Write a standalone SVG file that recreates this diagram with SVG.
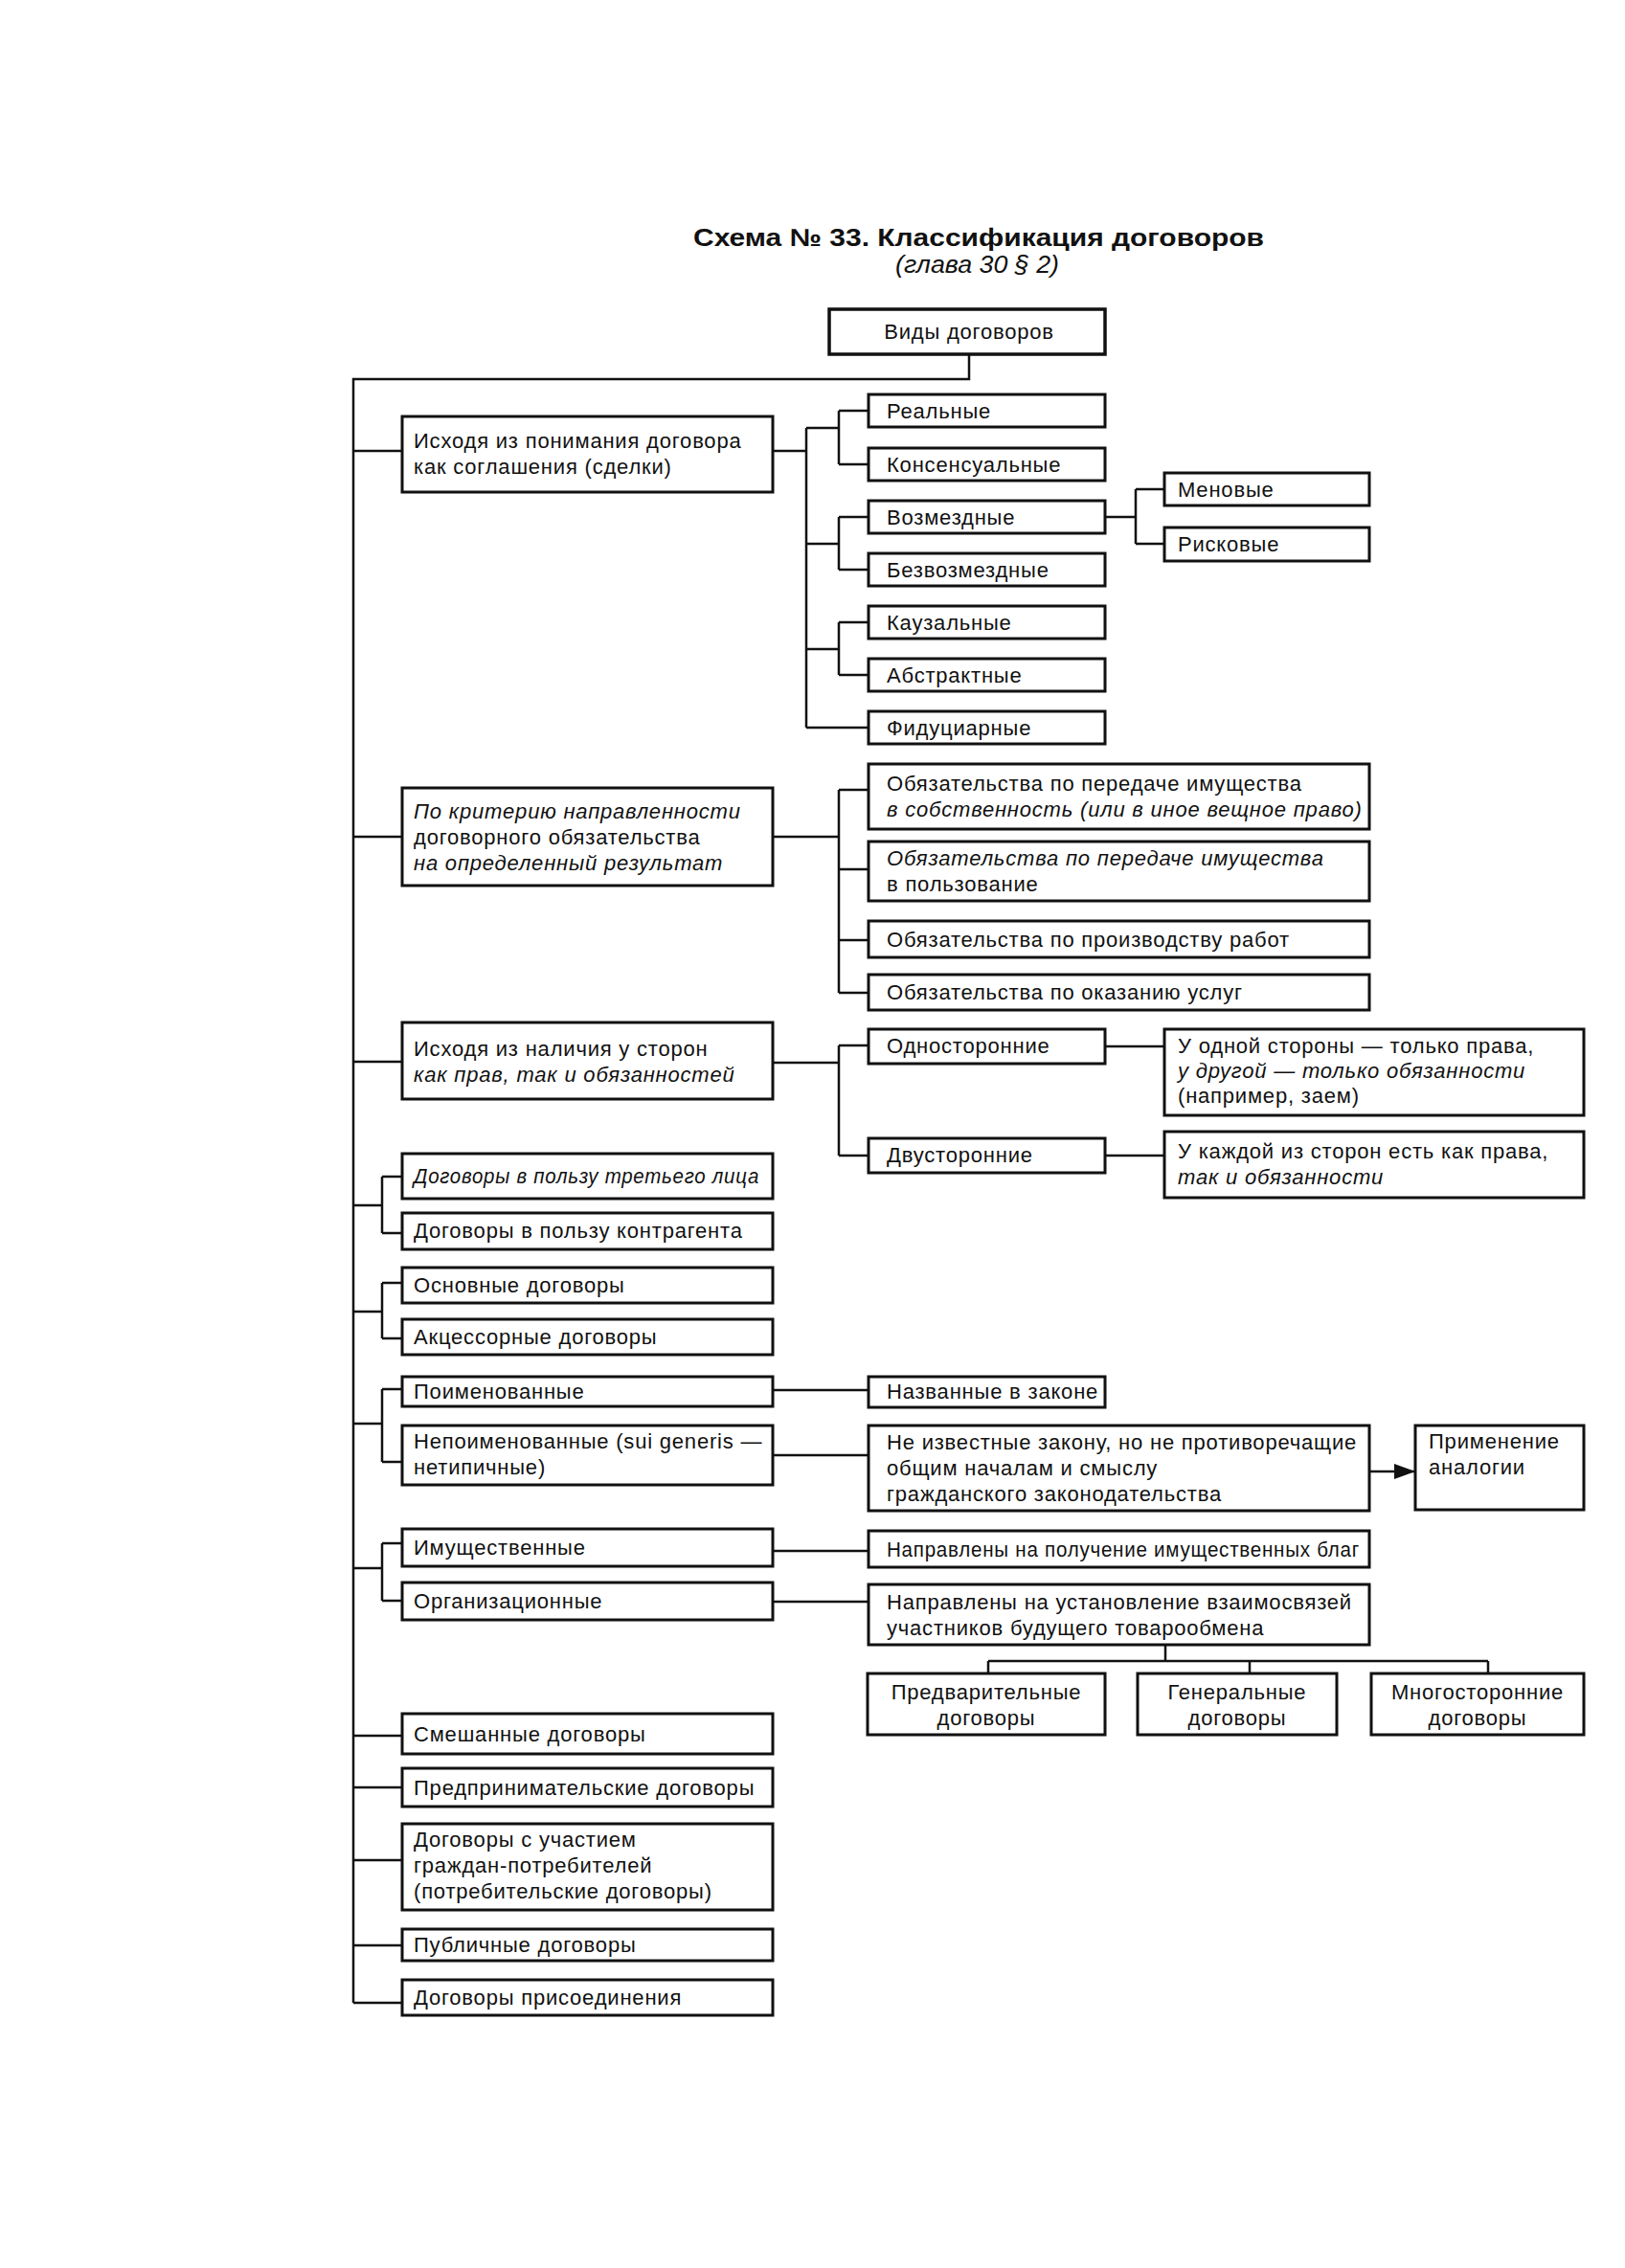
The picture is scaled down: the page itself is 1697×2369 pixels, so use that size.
<svg xmlns="http://www.w3.org/2000/svg" width="1697" height="2369" viewBox="0 0 1697 2369">
<defs>
<style>
.box{fill:#fff;stroke:#111;stroke-width:3}
.thick{stroke-width:3.5}
.ln{fill:none;stroke:#111;stroke-width:2.5}
.t{font-family:"Liberation Sans",Arial,sans-serif;font-size:22px;letter-spacing:0.8px;fill:#111}
.i{font-style:italic}
.c{text-anchor:middle}
.title{font-family:"Liberation Sans",Arial,sans-serif;font-size:26px;font-weight:bold;fill:#111}
.sub{font-family:"Liberation Sans",Arial,sans-serif;font-size:25px;font-style:italic;fill:#111}
</style>
<marker id="ah" viewBox="0 0 22 16" refX="22" refY="8" markerWidth="22" markerHeight="16" markerUnits="userSpaceOnUse" orient="auto"><path d="M0,0 L22,8 L0,16 z" fill="#111"/></marker>
</defs>
<rect width="1697" height="2369" fill="#fff"/>
<g id="title">
<text class="title" x="724" y="257" textLength="596" lengthAdjust="spacingAndGlyphs">Схема № 33. Классификация договоров</text>
<text class="sub" x="935" y="285" textLength="171" lengthAdjust="spacingAndGlyphs">(глава 30 § 2)</text>
</g>
<g id="connectors">
<path class="ln" d="M1012,370 V396 H369 V2092"/>
<path class="ln" d="M369,471 H420 M369,874 H420 M369,1109 H420 M369,1259 H399 M369,1370 H399 M369,1487 H399 M369,1638 H399 M369,1813 H420 M369,1867 H420 M369,1943 H420 M369,2032 H420 M369,2092 H420"/>
<path class="ln" d="M399,1229 V1288 M399,1229 H420 M399,1288 H420"/>
<path class="ln" d="M399,1340 V1398 M399,1340 H420 M399,1398 H420"/>
<path class="ln" d="M399,1451 V1527 M399,1451 H420 M399,1527 H420"/>
<path class="ln" d="M399,1612 V1672 M399,1612 H420 M399,1672 H420"/>
<path class="ln" d="M807,471 H842 M842,447 V760 M842,447 H876 M876,429 V485 M876,429 H907 M876,485 H907 M842,568 H876 M876,540 V595 M876,540 H907 M876,595 H907 M842,678 H876 M876,650 V705 M876,650 H907 M876,705 H907 M842,760 H907"/>
<path class="ln" d="M1154,540 H1186 M1186,511 V568 M1186,511 H1216 M1186,568 H1216"/>
<path class="ln" d="M807,874 H876 M876,825 V1037 M876,825 H907 M876,908 H907 M876,982 H907 M876,1037 H907"/>
<path class="ln" d="M807,1110 H876 M876,1092 V1207 M876,1092 H907 M876,1207 H907 M1154,1093 H1216 M1154,1207 H1216"/>
<path class="ln" d="M807,1452 H907 M807,1520 H907 M807,1620 H907 M807,1673 H907"/>
<path class="ln" d="M1430,1537 H1478" marker-end="url(#ah)"/>
<path class="ln" d="M1217,1718 V1735 M1032,1735 H1554 M1032,1735 V1748 M1305,1735 V1748 M1554,1735 V1748"/>
</g>
<g id="n-types"><rect class="box thick" x="866" y="323" width="288" height="47"/><text class="t c" x="1012" y="354">Виды договоров</text></g>
<g id="n-g1"><rect class="box" x="420" y="435" width="387" height="79"/><text class="t" x="432" y="468">Исходя из понимания договора</text><text class="t" x="432" y="495">как соглашения (сделки)</text></g>
<g id="n-real"><rect class="box" x="907" y="412" width="247" height="34"/><text class="t" x="926" y="437">Реальные</text></g>
<g id="n-cons"><rect class="box" x="907" y="468" width="247" height="34"/><text class="t" x="926" y="493">Консенсуальные</text></g>
<g id="n-paid"><rect class="box" x="907" y="523" width="247" height="34"/><text class="t" x="926" y="548">Возмездные</text></g>
<g id="n-free"><rect class="box" x="907" y="578" width="247" height="34"/><text class="t" x="926" y="603">Безвозмездные</text></g>
<g id="n-causal"><rect class="box" x="907" y="633" width="247" height="34"/><text class="t" x="926" y="658">Каузальные</text></g>
<g id="n-abstract"><rect class="box" x="907" y="688" width="247" height="34"/><text class="t" x="926" y="713">Абстрактные</text></g>
<g id="n-fid"><rect class="box" x="907" y="743" width="247" height="34"/><text class="t" x="926" y="768">Фидуциарные</text></g>
<g id="n-exch"><rect class="box" x="1216" y="494" width="214" height="34"/><text class="t" x="1230" y="519">Меновые</text></g>
<g id="n-risk"><rect class="box" x="1216" y="551" width="214" height="35"/><text class="t" x="1230" y="576">Рисковые</text></g>
<g id="n-g2"><rect class="box" x="420" y="823" width="387" height="102"/><text class="t i" x="432" y="855">По критерию направленности</text><text class="t" x="432" y="882">договорного обязательства</text><text class="t i" x="432" y="909">на определенный результат</text></g>
<g id="n-own"><rect class="box" x="907" y="798" width="523" height="68"/><text class="t" x="926" y="826">Обязательства по передаче имущества</text><text class="t i" x="926" y="853">в собственность (или в иное вещное право)</text></g>
<g id="n-use"><rect class="box" x="907" y="879" width="523" height="62"/><text class="t i" x="926" y="904">Обязательства по передаче имущества</text><text class="t" x="926" y="931">в пользование</text></g>
<g id="n-work"><rect class="box" x="907" y="962" width="523" height="38"/><text class="t" x="926" y="989">Обязательства по производству работ</text></g>
<g id="n-serv"><rect class="box" x="907" y="1018" width="523" height="37"/><text class="t" x="926" y="1044">Обязательства по оказанию услуг</text></g>
<g id="n-g3"><rect class="box" x="420" y="1068" width="387" height="80"/><text class="t" x="432" y="1103">Исходя из наличия у сторон</text><text class="t i" x="432" y="1130">как прав, так и обязанностей</text></g>
<g id="n-uni"><rect class="box" x="907" y="1075" width="247" height="36"/><text class="t" x="926" y="1100">Односторонние</text></g>
<g id="n-uni-d"><rect class="box" x="1216" y="1075" width="438" height="90"/><text class="t" x="1230" y="1100">У одной стороны — только права,</text><text class="t i" x="1230" y="1126">у другой — только обязанности</text><text class="t" x="1230" y="1152">(например, заем)</text></g>
<g id="n-bi"><rect class="box" x="907" y="1189" width="247" height="36"/><text class="t" x="926" y="1214">Двусторонние</text></g>
<g id="n-bi-d"><rect class="box" x="1216" y="1182" width="438" height="69"/><text class="t" x="1230" y="1210">У каждой из сторон есть как права,</text><text class="t i" x="1230" y="1237">так и обязанности</text></g>
<g id="n-third"><rect class="box" x="420" y="1205" width="387" height="47"/><text class="t i" x="432" y="1236" textLength="361" lengthAdjust="spacingAndGlyphs">Договоры в пользу третьего лица</text></g>
<g id="n-counter"><rect class="box" x="420" y="1267" width="387" height="38"/><text class="t" x="432" y="1293">Договоры в пользу контрагента</text></g>
<g id="n-main"><rect class="box" x="420" y="1324" width="387" height="37"/><text class="t" x="432" y="1350">Основные договоры</text></g>
<g id="n-access"><rect class="box" x="420" y="1378" width="387" height="37"/><text class="t" x="432" y="1404">Акцессорные договоры</text></g>
<g id="n-named"><rect class="box" x="420" y="1438" width="387" height="31"/><text class="t" x="432" y="1461">Поименованные</text></g>
<g id="n-unnamed"><rect class="box" x="420" y="1489" width="387" height="62"/><text class="t" x="432" y="1513">Непоименованные (sui generis —</text><text class="t" x="432" y="1540">нетипичные)</text></g>
<g id="n-named-d"><rect class="box" x="907" y="1438" width="247" height="32"/><text class="t" x="926" y="1461">Названные в законе</text></g>
<g id="n-unknown"><rect class="box" x="907" y="1489" width="523" height="89"/><text class="t" x="926" y="1514">Не известные закону, но не противоречащие</text><text class="t" x="926" y="1541">общим началам и смыслу</text><text class="t" x="926" y="1568">гражданского законодательства</text></g>
<g id="n-analogy"><rect class="box" x="1478" y="1489" width="176" height="88"/><text class="t" x="1492" y="1513">Применение</text><text class="t" x="1492" y="1540">аналогии</text></g>
<g id="n-prop"><rect class="box" x="420" y="1597" width="387" height="39"/><text class="t" x="432" y="1624">Имущественные</text></g>
<g id="n-org"><rect class="box" x="420" y="1653" width="387" height="39"/><text class="t" x="432" y="1680">Организационные</text></g>
<g id="n-prop-d"><rect class="box" x="907" y="1599" width="523" height="38"/><text class="t" x="926" y="1626" textLength="494" lengthAdjust="spacingAndGlyphs">Направлены на получение имущественных благ</text></g>
<g id="n-org-d"><rect class="box" x="907" y="1655" width="523" height="63"/><text class="t" x="926" y="1681">Направлены на установление взаимосвязей</text><text class="t" x="926" y="1708">участников будущего товарообмена</text></g>
<g id="n-prelim"><rect class="box" x="906" y="1748" width="248" height="64"/><text class="t c" x="1030" y="1775">Предварительные</text><text class="t c" x="1030" y="1802">договоры</text></g>
<g id="n-general"><rect class="box" x="1188" y="1748" width="208" height="64"/><text class="t c" x="1292" y="1775">Генеральные</text><text class="t c" x="1292" y="1802">договоры</text></g>
<g id="n-multi"><rect class="box" x="1432" y="1748" width="222" height="64"/><text class="t c" x="1543" y="1775">Многосторонние</text><text class="t c" x="1543" y="1802">договоры</text></g>
<g id="n-mixed"><rect class="box" x="420" y="1790" width="387" height="42"/><text class="t" x="432" y="1819">Смешанные договоры</text></g>
<g id="n-entre"><rect class="box" x="420" y="1847" width="387" height="40"/><text class="t" x="432" y="1875">Предпринимательские договоры</text></g>
<g id="n-consumer"><rect class="box" x="420" y="1905" width="387" height="90"/><text class="t" x="432" y="1929">Договоры с участием</text><text class="t" x="432" y="1956">граждан-потребителей</text><text class="t" x="432" y="1983">(потребительские договоры)</text></g>
<g id="n-public"><rect class="box" x="420" y="2015" width="387" height="33"/><text class="t" x="432" y="2039">Публичные договоры</text></g>
<g id="n-adhesion"><rect class="box" x="420" y="2068" width="387" height="37"/><text class="t" x="432" y="2094">Договоры присоединения</text></g>
</svg>
